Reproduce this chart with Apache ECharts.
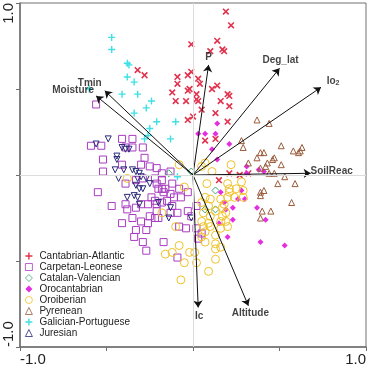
<!DOCTYPE html>
<html>
<head>
<meta charset="utf-8">
<script src="https://cdn.jsdelivr.net/npm/echarts@6/dist/echarts.min.js"></script>
<style>
  html, body { margin: 0; padding: 0; background: #fff; }
  #chart { width: 369px; height: 367px; }
</style>
</head>
<body>
<div id="chart"></div>
<script>
// group names, legend order
const groups = [
  "Cantabrian-Atlantic",
  "Carpetan-Leonese",
  "Catalan-Valencian",
  "Orocantabrian",
  "Oroiberian",
  "Pyrenean",
  "Galician-Portuguese",
  "Juresian",
];

// site scores [axis1, axis2]
const cantabrianAtlantic = [
  [0.19, 0.95], [0.22, 0.87], [-0.01, 0.76], [0.14, 0.78], [0.10, 0.72], [0.17, 0.73],
  [0.18, 0.72], [-0.01, 0.60], [-0.03, 0.58], [0.03, 0.56], [0.04, 0.53], [0.14, 0.52],
  [0.11, 0.50], [-0.02, 0.50], [-0.03, 0.49], [0.02, 0.47], [0.20, 0.47], [0.21, 0.46],
  [0.02, 0.44], [0.03, 0.43], [0.16, 0.43], [-0.04, 0.43], [0.21, 0.40], [0.05, 0.38],
  [0.13, 0.36], [0.00, 0.34], [-0.03, 0.32], [0.20, 0.31], [-0.32, 0.61], [-0.28, 0.58],
  [-0.09, 0.57], [-0.09, 0.53], [-0.12, 0.48], [-0.10, 0.43], [0.07, 0.20], [0.13, 0.21],
  [0.21, 0.01], [0.27, 0.00], [0.15, -0.03], [0.32, 0.01],
];
const carpetanLeonese = [
  [-0.56, 0.41], [-0.59, 0.17], [-0.53, 0.17], [-0.41, 0.21], [-0.35, 0.21], [-0.39, 0.16],
  [-0.35, 0.16], [-0.29, 0.16], [-0.52, 0.09], [-0.28, 0.10], [-0.41, 0.06], [-0.30, 0.06],
  [-0.52, 0.02], [-0.25, 0.05], [-0.21, 0.04], [-0.13, 0.02], [-0.18, 0.01], [-0.33, -0.03],
  [-0.29, -0.02], [-0.39, -0.05], [-0.22, -0.02], [-0.18, -0.03], [-0.21, -0.05], [-0.12, -0.05],
  [-0.16, -0.08], [-0.08, -0.08], [-0.03, -0.10], [-0.17, -0.10], [-0.13, -0.11], [-0.11, -0.13],
  [-0.24, -0.13], [-0.22, -0.15], [-0.15, -0.15], [-0.20, -0.08], [-0.55, -0.10], [-0.47, -0.18],
  [-0.39, -0.17], [-0.38, -0.20], [-0.33, -0.19], [-0.30, -0.17], [-0.41, -0.28], [-0.35, -0.25],
  [-0.33, -0.32], [-0.34, -0.36], [-0.29, -0.39], [-0.26, -0.28], [-0.27, -0.32], [-0.22, -0.25],
  [-0.18, -0.16], [-0.12, -0.18], [-0.27, -0.44], [-0.17, -0.39], [-0.09, -0.48], [-0.08, -0.30],
  [-0.04, -0.31], [-0.30, -0.27], [-0.25, -0.24], [-0.21, -0.21], [-0.20, -0.25], [-0.26, -0.17],
  [-0.13, -0.22], [-0.09, -0.22], [-0.03, -0.21], [0.02, -0.18], [-0.01, -0.24], [0.02, -0.31],
  [0.05, -0.34], [0.03, -0.37], [-0.18, -0.08], [-0.07, -0.13], [-0.21, -0.17],
];
const catalanValencian = [
  [-0.14, 0.01], [-0.01, 0.02], [0.13, -0.09], [0.07, -0.20], [0.13, -0.20],
];
const orocantabrian = [
  [0.03, 0.24], [0.07, 0.24], [0.13, 0.24], [0.14, 0.30], [0.21, 0.18], [0.11, 0.15],
  [0.14, 0.09], [0.31, 0.05], [0.38, 0.03], [0.41, 0.02], [0.31, 0.01], [0.16, -0.10],
  [0.28, -0.09], [0.26, -0.14], [0.30, -0.14], [0.18, -0.16], [0.23, -0.19], [0.19, -0.20],
  [0.23, -0.26], [0.15, -0.28], [0.20, -0.36], [0.37, -0.19], [0.42, -0.26], [0.39, -0.39],
  [0.53, -0.41],
];
const oroiberian = [
  [-0.08, 0.06], [0.05, 0.05], [0.07, 0.07], [0.22, 0.06], [0.11, 0.02], [0.08, -0.05],
  [0.20, -0.05], [0.21, -0.08], [0.28, -0.04], [-0.38, -0.02], [-0.05, -0.07], [0.07, -0.13],
  [0.10, -0.14], [0.05, -0.16], [0.09, -0.18], [0.16, -0.14], [0.18, -0.17], [0.17, -0.19],
  [0.20, -0.13], [0.24, -0.13], [0.29, -0.13], [0.21, -0.10], [0.25, -0.08], [0.29, -0.09],
  [0.13, -0.21], [0.19, -0.22], [0.06, -0.22], [0.10, -0.24], [0.17, -0.24], [0.05, -0.27],
  [0.09, -0.28], [0.16, -0.27], [0.19, -0.27], [0.06, -0.30], [0.10, -0.30], [0.16, -0.31],
  [0.20, -0.30], [0.07, -0.33], [0.13, -0.35], [0.05, -0.36], [0.07, -0.39], [0.13, -0.40],
  [0.16, -0.42], [0.13, -0.43], [-0.02, -0.45], [0.01, -0.45], [-0.05, -0.51], [0.02, -0.51],
  [0.13, -0.49], [0.09, -0.56], [-0.08, -0.41], [-0.16, -0.46], [-0.12, -0.45], [-0.07, -0.61],
  [-0.18, -0.22], [-0.10, -0.30],
];
const pyrenean = [
  [0.37, 0.32], [0.44, 0.30], [0.28, 0.20], [0.29, 0.16], [0.51, 0.17], [0.39, 0.13],
  [0.41, 0.13], [0.37, 0.10], [0.58, 0.14], [0.61, 0.13], [0.62, 0.14], [0.63, 0.16],
  [0.43, 0.07], [0.46, 0.09], [0.47, 0.10], [0.32, 0.07], [0.42, 0.05], [0.51, 0.06],
  [0.39, 0.04], [0.44, 0.01], [0.47, 0.01], [0.53, -0.01], [0.59, -0.05], [0.49, -0.05],
  [0.39, -0.10], [0.41, -0.09], [0.39, -0.12], [0.57, -0.16], [0.40, -0.21], [0.45, -0.21],
  [0.39, -0.25],
];
const galicianPortuguese = [
  [-0.47, 0.80], [-0.47, 0.73], [-0.38, 0.65], [-0.37, 0.64], [-0.38, 0.57], [-0.34, 0.54],
  [-0.32, 0.47], [-0.41, 0.47], [-0.60, 0.50], [-0.24, 0.43], [-0.27, 0.39], [-0.34, 0.36],
  [-0.25, 0.27], [-0.28, 0.21], [-0.26, 0.23], [-0.13, 0.21], [-0.10, 0.31], [-0.21, 0.31],
  [-0.09, -0.01],
];
const juresian = [
  [-0.49, 0.21], [-0.56, 0.18], [-0.44, 0.11], [-0.44, 0.09], [-0.41, 0.16], [-0.39, 0.15],
  [-0.37, 0.15], [-0.45, 0.03], [-0.40, 0.03], [-0.35, 0.03], [-0.33, 0.02], [-0.31, 0.01],
  [-0.30, -0.01], [-0.43, -0.02], [-0.32, -0.02], [-0.33, -0.06], [-0.31, -0.08], [-0.29, -0.08],
  [-0.27, -0.02], [-0.25, -0.05], [-0.38, -0.13], [-0.34, -0.12], [-0.32, -0.13], [-0.31, -0.17],
  [-0.20, -0.16], [-0.14, -0.25], [-0.13, -0.19], [-0.01, -0.25],
];

// environmental vectors
const vectorNames = ["P", "Deg_lat", "Io2", "SoilReac", "Moisture", "Tmin", "Ic", "Altitude"];
const vectorX = [0.09, 0.50, 0.74, 0.68, -0.56, -0.51, 0.03, 0.32];
const vectorY = [0.64, 0.62, 0.51, 0.01, 0.46, 0.49, -0.77, -0.76];

// axis tick labels
const tickLabels = { "-1": "-1.0", "1": "1.0" };

// label nudges from arrow tip, px
const labelOffsets = {
  P: [0, -8], Deg_lat: [1, -8], Io2: [12, -6], SoilReac: [21, -2],
  Moisture: [-23, -6], Tmin: [-15, -7], Ic: [1, 9], Altitude: [2, 8],
};

const plusPath = "path://M4,0H6V4H10V6H6V10H4V6H0V4H4Z";
const font = "Liberation Sans, Arial, sans-serif";

const styles = {
  "Cantabrian-Atlantic": { symbol: plusPath, rotate: 45, size: 8, fill: "#e2334f" },
  "Carpetan-Leonese": { symbol: "rect", size: 7, stroke: "#a83cc0" },
  "Catalan-Valencian": { symbol: "diamond", size: 7, stroke: "#3fa878" },
  "Orocantabrian": { symbol: "diamond", size: 6, fill: "#e42ee0" },
  "Oroiberian": { symbol: "circle", size: 8, stroke: "#f0c228" },
  "Pyrenean": { symbol: "triangle", size: 6, stroke: "#9a5c3c" },
  "Galician-Portuguese": { symbol: plusPath, size: 7, fill: "#3ee0e6" },
  "Juresian": { symbol: "triangle", rotate: 180, size: 6, stroke: "#2a2a78" },
};

const groupData = [
  cantabrianAtlantic, carpetanLeonese, catalanValencian, orocantabrian,
  oroiberian, pyrenean, galicianPortuguese, juresian,
];

const pointSeries = groups.map((name, i) => {
  const s = styles[name];
  return {
    name,
    type: "scatter",
    data: groupData[i],
    symbol: s.symbol,
    symbolSize: s.size,
    symbolRotate: s.rotate || 0,
    itemStyle: s.fill
      ? { color: s.fill, opacity: 1 }
      : { color: "rgba(255,255,255,0)", borderColor: s.stroke, borderWidth: 1, opacity: 1 },
    z: 3,
  };
});

const chart = echarts.init(document.getElementById("chart"), null, { renderer: "canvas" });

const option = {
  animation: false,
  backgroundColor: "#fff",
  grid: { left: 20, right: 1, top: 1, bottom: 20, show: true, borderColor: "#707070", borderWidth: 1 },
  xAxis: {
    type: "value",
    min: -1,
    max: 1,
    interval: 0.5,
    axisLine: { onZero: false, lineStyle: { color: "#707070", width: 1.5 } },
    axisTick: { show: true, length: 4, lineStyle: { color: "#707070" } },
    splitLine: { show: false },
    axisLabel: {
      margin: 5,
      fontSize: 15,
      fontFamily: font,
      color: "#222",
      alignMinLabel: "left",
      alignMaxLabel: "right",
      formatter: (v) => tickLabels[String(v)] || "",
    },
  },
  yAxis: {
    type: "value",
    min: -1,
    max: 1,
    interval: 0.5,
    axisLine: { onZero: false, lineStyle: { color: "#707070", width: 1.5 } },
    axisTick: { show: true, length: 4, lineStyle: { color: "#707070" } },
    splitLine: { show: false },
    axisLabel: {
      rotate: 90,
      margin: 4,
      fontSize: 15,
      fontFamily: font,
      color: "#222",
      alignMinLabel: "left",
      alignMaxLabel: "right",
      formatter: (v) => tickLabels[String(v)] || "",
    },
  },
  legend: {
    orient: "vertical",
    left: 25,
    top: 251,
    itemWidth: 7,
    itemHeight: 7,
    itemGap: 1,
    padding: 0,
    data: groups,
    itemStyle: { borderWidth: 0.8 },
    textStyle: { fontSize: 10, fontFamily: font, color: "#222", lineHeight: 10, padding: [0, 0, 0, 2] },
  },
  series: [
    {
      // zero cross lines
      type: "scatter",
      data: [],
      silent: true,
      z: 1,
      markLine: {
        silent: true,
        symbol: ["none", "none"],
        label: { show: false },
        lineStyle: { color: "#dcdcdc", type: "solid", width: 1 },
        data: [{ xAxis: 0 }, { yAxis: 0 }],
      },
    },
    ...pointSeries,
    {
      type: "lines",
      coordinateSystem: "cartesian2d",
      silent: true,
      z: 4,
      symbol: ["none", "arrow"],
      symbolSize: 7,
      lineStyle: { color: "#111", width: 1, opacity: 1 },
      data: vectorNames.map((n, i) => ({ coords: [[0, 0], [vectorX[i], vectorY[i]]] })),
    },
    {
      type: "scatter",
      silent: true,
      z: 5,
      symbolSize: 0,
      data: vectorNames.map((n, i) => ({
        value: [vectorX[i], vectorY[i]],
        name: n,
        label: { offset: labelOffsets[n] },
      })),
      label: {
        show: true,
        position: "inside",
        fontSize: 10,
        fontWeight: "bold",
        fontFamily: font,
        color: "#111",
        formatter: (p) => (p.name === "Io2" ? "Io{sub|2}" : p.name),
        rich: {
          sub: { fontSize: 7, fontWeight: "bold", fontFamily: font, color: "#111", verticalAlign: "bottom", padding: [4, 0, 0, 0] },
        },
      },
    },
  ],
};

chart.setOption(option);
</script>
</body>
</html>
